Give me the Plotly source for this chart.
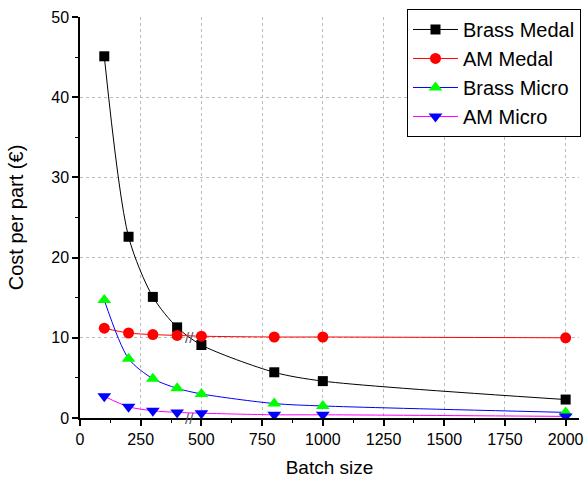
import plotly.graph_objects as go

batch = [100, 200, 300, 400, 500, 800, 1000, 2000]
brass_medal = [45.1, 22.6, 15.1, 11.3, 9.1, 5.7, 4.6, 2.3]
am_medal = [11.2, 10.6, 10.4, 10.3, 10.2, 10.1, 10.1, 10.0]
brass_micro = [14.7, 7.4, 4.9, 3.7, 3.0, 1.8, 1.5, 0.7]
am_micro = [2.7, 1.4, 0.9, 0.7, 0.6, 0.4, 0.4, 0.2]

x_ticks = [0, 250, 500, 750, 1000, 1250, 1500, 1750, 2000]
y_ticks = [0, 10, 20, 30, 40, 50]

series = [
    ("Brass Medal", brass_medal, "black", "black", "square", 10),
    ("AM Medal", am_medal, "#FF0000", "#FF0000", "circle", 11),
    ("Brass Micro", brass_micro, "#0000FF", "#00FF00", "triangle-up", 12),
    ("AM Micro", am_micro, "#FF00FF", "#0000FF", "triangle-down", 12),
]

fig = go.Figure()
for name, vals, lc, mc, sym, sz in series:
    fig.add_trace(go.Scatter(
        x=batch, y=vals, name=name, mode="lines+markers",
        line=dict(color=lc, width=1, shape="spline", smoothing=0.8),
        marker=dict(color=mc, symbol=sym, size=sz, line=dict(width=0)),
    ))

# axis break marks
for yb in [10, 0]:
    fig.add_annotation(x=450, y=yb, text="//", showarrow=False,
                       font=dict(family="Liberation Sans, Arial", size=15, color="#555555"),
                       xref="x", yref="y")

fig.update_layout(
    width=585, height=480,
    margin=dict(l=80, r=6, t=17, b=62, autoexpand=False),
    paper_bgcolor="white", plot_bgcolor="white",
    font=dict(family="Liberation Sans, Arial, sans-serif", color="black"),
    showlegend=True,
    legend=dict(
        x=1.004, xanchor="right", y=1.02, yanchor="top",
        bgcolor="white", bordercolor="black", borderwidth=1,
        font=dict(size=20), tracegroupgap=0, itemwidth=45,
    ),
    xaxis=dict(
        range=[0, 2055], tickvals=x_ticks, ticktext=[str(v) for v in x_ticks],
        showline=True, linecolor="black", linewidth=1.5,
        ticks="outside", ticklen=6, tickwidth=1.5, tickcolor="black",
        minor=dict(tickvals=[125, 375, 625, 875, 1125, 1375, 1625, 1875],
                   ticks="outside", ticklen=3, tickcolor="black", tickwidth=1.2, showgrid=False),
        showgrid=True, gridcolor="#BBBBBB", griddash="dot", gridwidth=1,
        zeroline=False, tickfont=dict(size=16),
        title=dict(text="Batch size", font=dict(size=19), standoff=14),
    ),
    yaxis=dict(
        range=[0, 50], tickvals=y_ticks,
        showline=True, linecolor="black", linewidth=1.5,
        ticks="outside", ticklen=6, tickwidth=1.5, tickcolor="black",
        minor=dict(tickvals=[5, 15, 25, 35, 45], ticks="outside", ticklen=3,
                   tickcolor="black", tickwidth=1.2, showgrid=False),
        showgrid=True, gridcolor="#BBBBBB", griddash="dot", gridwidth=1,
        zeroline=False, tickfont=dict(size=16),
        title=dict(text="Cost per part (€)", font=dict(size=20), standoff=22),
    ),
)

fig.write_html(
    "out.html",
    config={"displayModeBar": False},
    post_script="document.body.style.margin='0';document.body.style.padding='0';",
)
